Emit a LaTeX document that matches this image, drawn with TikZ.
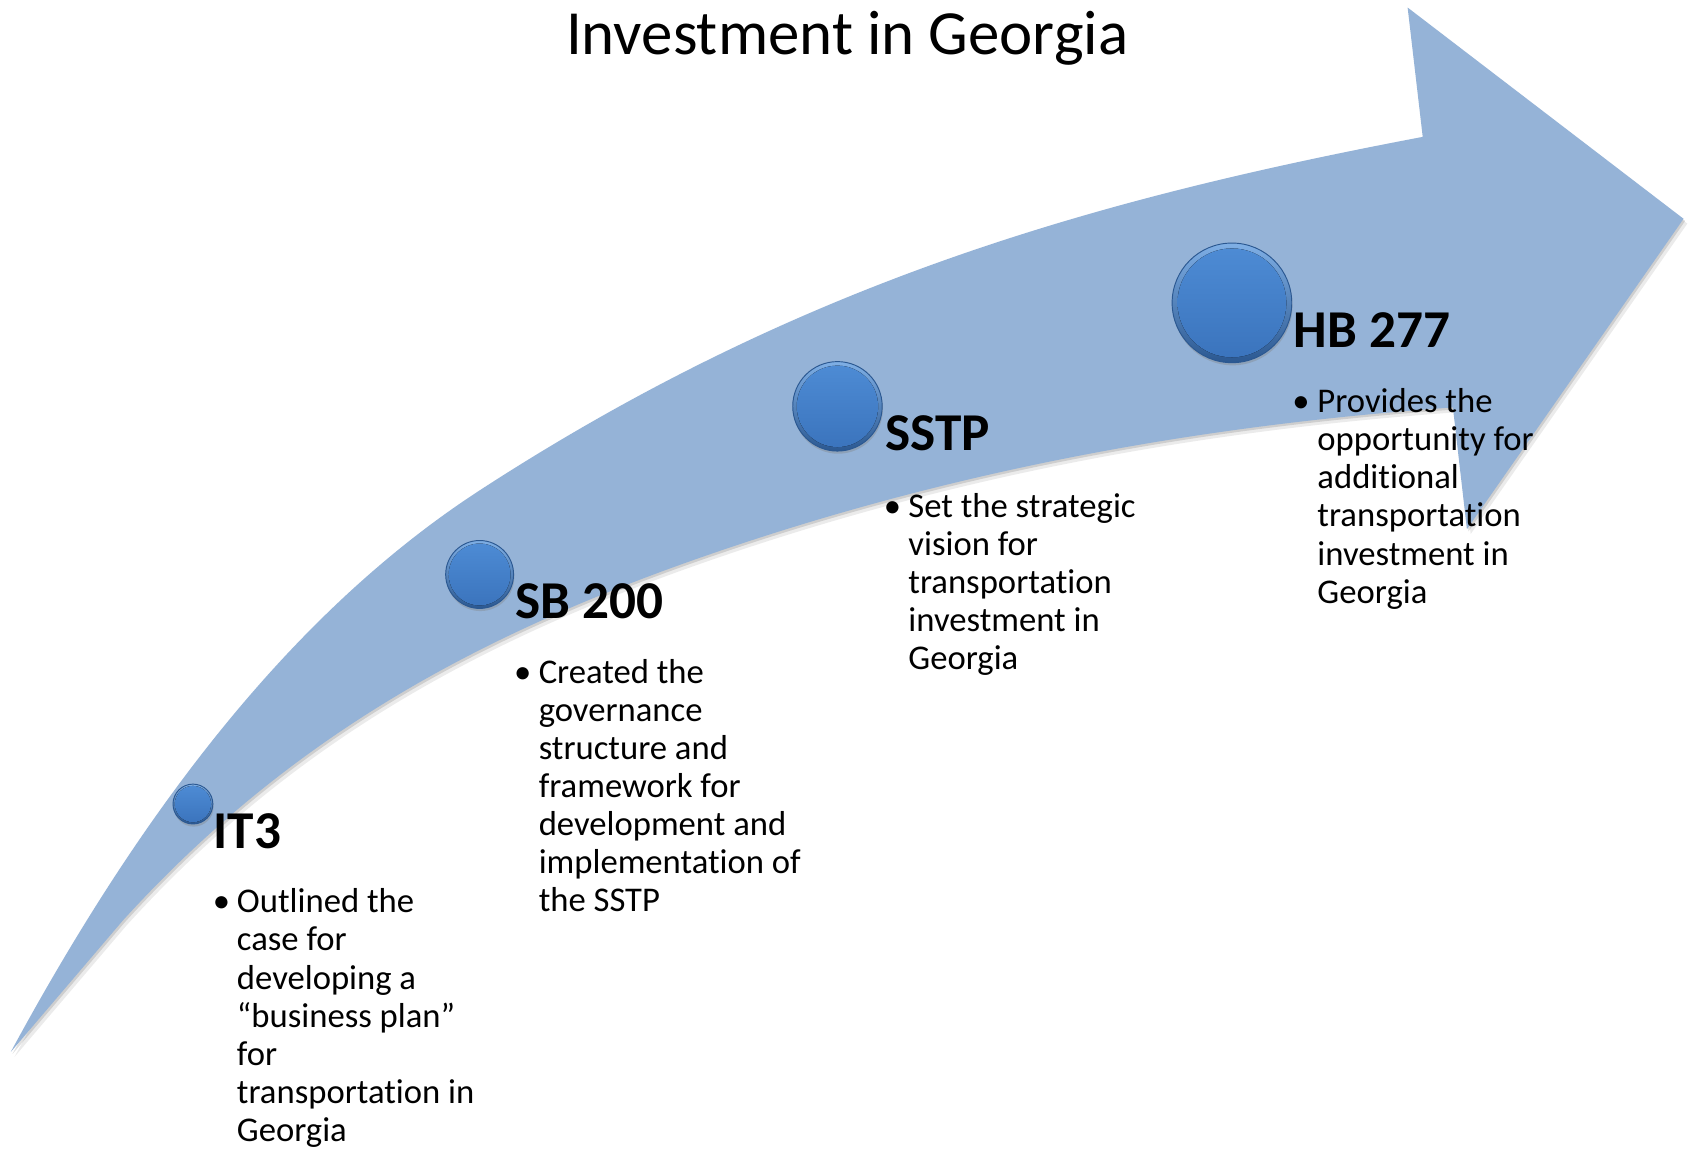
\documentclass[tikz,border=0pt]{standalone}
\usepackage{fontspec}
\setmainfont{Carlito}[Ligatures=CommonOff]
\usetikzlibrary{shadows}

\definecolor{arrowblue}{HTML}{95B3D7}
\definecolor{balltop}{HTML}{4E8CD5}
\definecolor{ballbot}{HTML}{3A73BC}
\definecolor{ballhi}{HTML}{7FAFE5}
\definecolor{ballrim}{HTML}{2B5891}

\begin{document}
\begin{tikzpicture}[x=0.02cm, y=-0.02cm,
  title/.style={font=\fontsize{33.2}{40}\selectfont, inner sep=0pt, anchor=base},
  head/.style={font=\bfseries\fontsize{28.1}{34}\selectfont, inner sep=0pt, anchor=base west},
  body/.style={font=\fontsize{18.3}{20.1}\selectfont, inner sep=0pt, anchor=base west},
  dot/.style={font=\fontsize{18.3}{20.1}\selectfont, inner sep=0pt, anchor=base},
  ball/.style={circle, inner sep=0pt, minimum size=#1,
    draw=ballrim, line width=0.5pt,
    top color=ballhi, bottom color=ballrim,
    drop shadow={shadow xshift=0.4pt, shadow yshift=-1.4pt, opacity=0.35},
    path picture={\fill[top color=balltop, bottom color=ballbot]
      (path picture bounding box.center) circle[radius=0.455*#1];}}]

\useasboundingbox[fill=white] (0,0) rectangle (1568,1067);

% curved band ending in a broad arrow head
\def\arrowoutline{(10,976)
  .. controls (135,745) and (275,565.5) .. (445,455)
  .. controls (745,260) and (1020,184) .. (1320,127)
  -- (1306,7) -- (1562,203) -- (1361,491) -- (1348,378)
  .. controls (1108,395) and (871,438) .. (631,524)
  .. controls (431,596) and (264,689) .. (114,854)
  -- cycle}

\fill[black, opacity=0.08, shift={(3.5,4.5)}] \arrowoutline;
\fill[black, opacity=0.12, shift={(1.5,2)}] \arrowoutline;
\fill[arrowblue] \arrowoutline;

% milestone buttons
\node[ball=37*0.02cm]  (m1) at (179,746) {};
\node[ball=63*0.02cm]  (m2) at (445,533) {};
\node[ball=83*0.02cm]  (m3) at (777,377) {};
\node[ball=111*0.02cm] (m4) at (1143,281) {};

% title
\node[title] (ttl) at (786,51) {Investment in Georgia};

% IT3
\node[head] (h1) at (198,787) {IT3};
\node[dot]  (d1) at (205.5,847) {•};
\node[body] (b1) at (219.5,847) {\parbox[t]{6cm}{Outlined the\\case for\\developing a\\“business plan”\\for\\transportation in\\Georgia}};

% SB 200
\node[head] (h2) at (478,574) {SB 200};
\node[dot]  (d2) at (485,634) {•};
\node[body] (b2) at (499.5,634) {\parbox[t]{6cm}{Created the\\governance\\structure and\\framework for\\development and\\implementation of\\the SSTP}};

% SSTP
\node[head] (h3) at (821,418) {SSTP};
\node[dot]  (d3) at (828,480) {•};
\node[body] (b3) at (842.5,480) {\parbox[t]{6cm}{Set the strategic\\vision for\\transportation\\investment in\\Georgia}};

% HB 277
\node[head] (h4) at (1200,322) {HB 277};
\node[dot]  (d4) at (1207,383) {•};
\node[body] (b4) at (1222,383) {\parbox[t]{6cm}{Provides the\\opportunity for\\additional\\transportation\\investment in\\Georgia}};

\end{tikzpicture}
\end{document}
